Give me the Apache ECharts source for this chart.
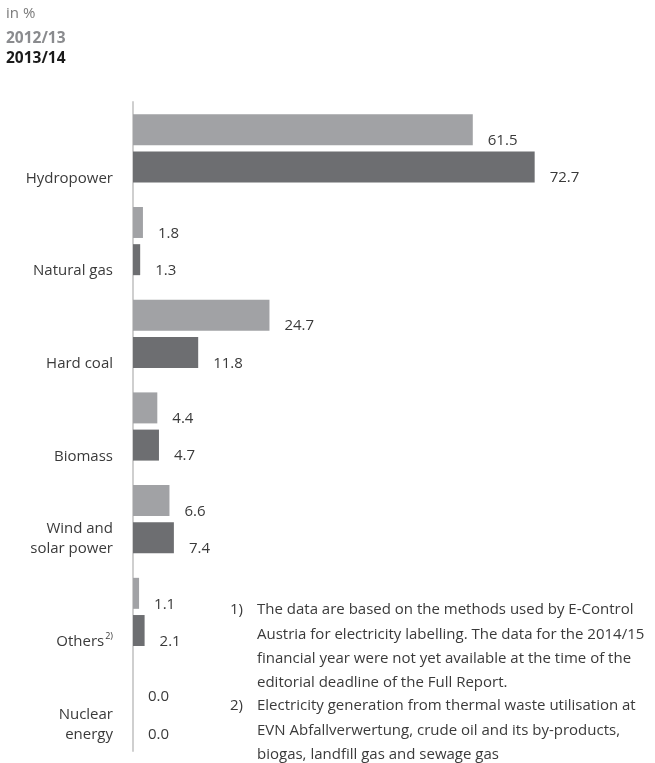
<!DOCTYPE html>
<html>
<head>
<meta charset="utf-8">
<script src="https://cdn.jsdelivr.net/npm/echarts@6/dist/echarts.min.js"></script>
<style>html,body{margin:0;padding:0;background:#fff;}#c{width:655px;height:763px;}</style>
</head>
<body>
<div id="c"></div>
<script>
const categories = ['Hydropower', 'Natural gas', 'Hard coal', 'Biomass', 'Wind and\nsolar power', 'Others', 'Nuclear\nenergy'];
const seriesNames = ['2012/13', '2013/14'];
const values1213 = [61.5, 1.8, 24.7, 4.4, 6.6, 1.1, 0.0];
const values1314 = [72.7, 1.3, 11.8, 4.7, 7.4, 2.1, 0.0];
const unitLabel = 'in %';
const footnote1 = 'The data are based on the methods used by E-Control\nAustria for electricity labelling. The data for the 2014/15\nfinancial year were not yet available at the time of the\neditorial deadline of the Full Report.';
const footnote2 = 'Electricity generation from thermal waste utilisation at\nEVN Abfallverwertung, crude oil and its by-products,\nbiogas, landfill gas and sewage gas';

const FONT = '"Open Sans", "Noto Sans", sans-serif';
const TXT = '#3a3a3a';
const C1 = '#a1a2a5';
const C2 = '#6d6e71';
const FS = 15;

const chart = echarts.init(document.getElementById('c'), null, {renderer: 'canvas'});

const labelOpt = {
  show: true,
  position: 'right',
  distance: 15,
  offset: [0, 11],
  color: TXT,
  fontFamily: FONT,
  fontSize: FS,
  formatter: p => p.value.toFixed(1)
};

chart.setOption({
  animation: false,
  textStyle: {fontFamily: FONT},
  title: {
    text: unitLabel,
    left: 6, top: 6, padding: 0,
    textStyle: {fontFamily: FONT, fontSize: 15, fontWeight: 'normal', color: '#7a7a7a'}
  },
  legend: {
    orient: 'vertical',
    left: 1, top: 31, padding: 0,
    itemWidth: 0, itemHeight: 14, itemGap: 4,
    icon: 'none',
    selectedMode: false,
    textStyle: {fontFamily: FONT, fontSize: 15.5, fontWeight: 'bold'},
    data: [
      {name: seriesNames[0], textStyle: {color: '#8a8b8e'}},
      {name: seriesNames[1], textStyle: {color: '#1a1a1a'}}
    ]
  },
  grid: {left: 133, right: 80, top: 102, height: 649, containLabel: false},
  xAxis: {
    type: 'value', min: 0, max: 80,
    show: false
  },
  yAxis: {
    type: 'category',
    data: categories,
    inverse: true,
    axisLine: {show: true, lineStyle: {color: '#cfcfcf', width: 2}},
    axisTick: {show: false},
    splitLine: {show: false},
    axisLabel: {
      margin: 20,
      verticalAlign: 'top',
      lineHeight: 20,
      color: TXT,
      fontFamily: FONT,
      fontSize: FS,
      formatter: function (v) {
        if (v === 'Others') return '\n{n|Others}{sup|2)}';
        return v.indexOf('\n') >= 0 ? v : '\n' + v;
      },
      rich: {
        n: {color: TXT, fontFamily: FONT, fontSize: FS, lineHeight: 20},
        sup: {color: TXT, fontFamily: FONT, fontSize: 9, lineHeight: 15, verticalAlign: 'top', padding: [0, 0, 0, 1]}
      }
    }
  },
  series: [
    {
      name: seriesNames[0], type: 'bar', data: values1213,
      barWidth: 31, barGap: '20%',
      itemStyle: {color: C1},
      label: labelOpt
    },
    {
      name: seriesNames[1], type: 'bar', data: values1314,
      barWidth: 31, barGap: '20%',
      itemStyle: {color: C2},
      label: labelOpt
    }
  ],
  graphic: [
    {type: 'text', x: 230, y: 598, style: {text: '1)', font: FS + 'px ' + FONT, fill: TXT, lineHeight: 24.3, verticalAlign: 'top', align: 'left'}},
    {type: 'text', x: 257, y: 598, style: {text: footnote1, font: FS + 'px ' + FONT, fill: TXT, lineHeight: 24.3, verticalAlign: 'top', align: 'left'}},
    {type: 'text', x: 230, y: 694, style: {text: '2)', font: FS + 'px ' + FONT, fill: TXT, lineHeight: 24.3, verticalAlign: 'top', align: 'left'}},
    {type: 'text', x: 257, y: 694, style: {text: footnote2, font: FS + 'px ' + FONT, fill: TXT, lineHeight: 24.3, verticalAlign: 'top', align: 'left'}}
  ]
});
</script>
</body>
</html>
